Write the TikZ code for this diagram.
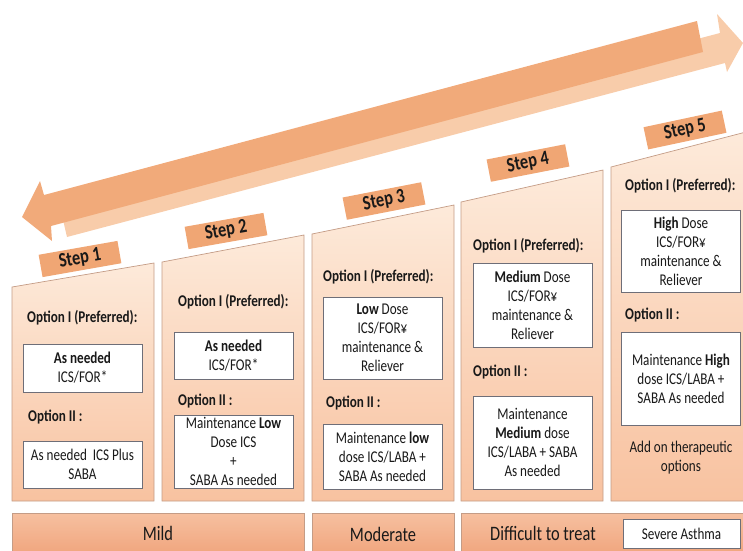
\documentclass[tikz,border=0pt]{standalone}
\usepackage{fontspec}
\setmainfont{Carlito}[FakeStretch=0.8]

\definecolor{arrowdark}{RGB}{241,170,122}
\definecolor{arrowlight}{RGB}{248,204,170}
\definecolor{coltop}{RGB}{253,234,218}
\definecolor{colbot}{RGB}{248,194,160}
\definecolor{colline}{RGB}{196,156,134}
\definecolor{bartop}{RGB}{246,192,160}
\definecolor{barbot}{RGB}{240,164,124}
\definecolor{steporange}{RGB}{240,166,116}
\definecolor{boxline}{RGB}{110,110,120}
\definecolor{ink}{RGB}{25,25,25}

\tikzset{
  optbox/.style={draw=boxline, fill=white, line width=0.6pt, minimum width=3.57cm,
    inner sep=0pt, align=center, font=\fontsize{14}{16.2}\selectfont, text=ink},
  opthead/.style={anchor=west, inner sep=0pt, font=\bfseries\fontsize{14}{15}\selectfont, text=ink},
  steplabel/.style={fill=steporange, minimum width=2.4cm, minimum height=0.68cm, inner sep=0pt,
    font=\bfseries\fontsize{17.5}{18}\selectfont, text=ink},
  sevlabel/.style={font=\fontsize{17.5}{18}\selectfont, text=ink},
  colshade/.style={top color=coltop, bottom color=colbot, draw=colline, line width=0.6pt},
  barshade/.style={top color=bartop, bottom color=barbot, draw=colline, line width=0.6pt},
}

\begin{document}
\begin{tikzpicture}[x=0.03cm, y=-0.03cm]

\useasboundingbox (0,0) rectangle (743,550);
\clip (0,0) rectangle (743,550);

\def\yb{501} % column bottom
\def\ybt{513} % bar top
\def\ybb{556} % bar bottom

% double arrow, light part behind
\fill[arrowlight] (60,207) -- (720,33) -- (717,14) -- (743,43) -- (727,72) -- (725,63) -- (67,237) -- cycle;
\fill[arrowdark] (22,217) -- (40,181) -- (44,195) -- (697,21) -- (703,52) -- (51,226) -- (52,241) -- cycle;

% columns
\shade[colshade] (12,\yb) -- (12,287) -- (154,263) -- (154,\yb) -- cycle;
\shade[colshade] (162,\yb) -- (162,262) -- (304,235) -- (304,\yb) -- cycle;
\shade[colshade] (312,\yb) -- (312,234) -- (454,205) -- (454,\yb) -- cycle;
\shade[colshade] (461,\yb) -- (461,202) -- (603,170) -- (603,\yb) -- cycle;
\shade[colshade] (611,\yb) -- (611,167) -- (746,132) -- (746,\yb) -- cycle;

% severity bars
\shade[barshade] (12,\ybt) rectangle (304,\ybb);
\shade[barshade] (312,\ybt) rectangle (454,\ybb);
\shade[barshade] (461,\ybt) rectangle (746,\ybb);

\node[sevlabel] (mild) at (158,533) {Mild};
\node[sevlabel] (moderate) at (383,534) {Moderate};
\node[sevlabel] (difficult) at (543,533) {Difficult to treat};
\node[optbox, minimum width=3.51cm, minimum height=0.87cm, font=\fontsize{14}{15}\selectfont] (severe) at (681.5,533.5) {Severe Asthma};

% step labels
\node[steplabel, rotate=10] (step1) at (80,259) {Step 1};
\node[steplabel, rotate=10] (step2) at (226,231) {Step 2};
\node[steplabel, rotate=11] (step3) at (384,201) {Step 3};
\node[steplabel, rotate=11] (step4) at (528,163) {Step 4};
\node[steplabel, rotate=12] (step5) at (685,130) {Step 5};

% step 1
\node[opthead] (c1h1) at (27,318) {Option I (Preferred):};
\node[optbox, minimum height=1.44cm] (c1b1) at (82.5,368) {\textbf{As needed}\\ICS/FOR*};
\node[opthead] (c1h2) at (28,417) {Option II :};
\node[optbox, minimum height=1.41cm] (c1b2) at (82.5,464.5) {As needed\ \ ICS Plus\\SABA};

% step 2
\node[opthead] (c2h1) at (178,302) {Option I (Preferred):};
\node[optbox, minimum height=1.41cm] (c2b1) at (233.5,355.5) {\textbf{As needed}\\ICS/FOR*};
\node[opthead] (c2h2) at (178,401) {Option II :};
\node[optbox, minimum height=2.19cm] (c2b2) at (233.5,451.5) {Maintenance \textbf{Low}\\Dose ICS\\+\\SABA As needed};

% step 3
\node[opthead] (c3h1) at (323,277) {Option I (Preferred):};
\node[optbox, minimum height=2.46cm] (c3b1) at (382.5,338) {\textbf{Low} Dose\\ICS/FOR¥\\maintenance \&\\Reliever};
\node[opthead] (c3h2) at (326,403) {Option II :};
\node[optbox, minimum height=1.95cm] (c3b2) at (382.5,456.5) {Maintenance \textbf{low}\\dose ICS/LABA +\\SABA As needed};

% step 4
\node[opthead] (c4h1) at (473,246) {Option I (Preferred):};
\node[optbox, minimum height=2.52cm] (c4b1) at (532.5,305) {\textbf{Medium} Dose\\ICS/FOR¥\\maintenance \&\\Reliever};
\node[opthead] (c4h2) at (473,372) {Option II :};
\node[optbox, minimum height=2.79cm] (c4b2) at (532.5,442.5) {Maintenance\\\textbf{Medium} dose\\ICS/LABA + SABA\\As needed};

% step 5
\node[opthead] (c5h1) at (625,186) {Option I (Preferred):};
\node[optbox, minimum height=2.46cm] (c5b1) at (681,251) {\textbf{High} Dose\\ICS/FOR¥\\maintenance \&\\Reliever};
\node[opthead] (c5h2) at (625,315) {Option II :};
\node[optbox, minimum height=2.79cm] (c5b2) at (681,378.5) {Maintenance \textbf{High}\\dose ICS/LABA +\\SABA As needed};
\node[align=center, inner sep=0pt, font=\fontsize{14}{16.2}\selectfont, text=ink] (c5add) at (681,457.5) {Add on therapeutic\\options};

\end{tikzpicture}
\end{document}
